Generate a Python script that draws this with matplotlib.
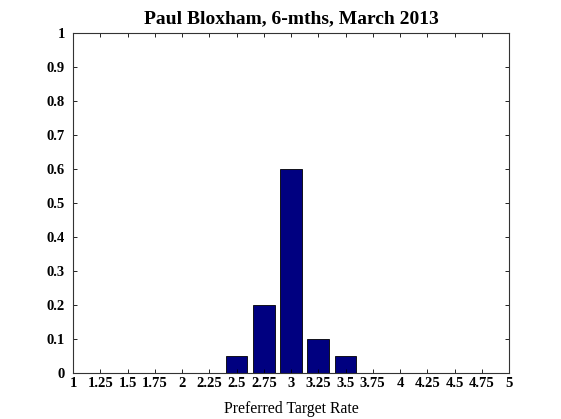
import matplotlib.pyplot as plt
import numpy as np

# preferred target rate survey
rates = [2.5, 2.75, 3.0, 3.25, 3.5]
shares = [0.05, 0.2, 0.6, 0.1, 0.05]
xticks = [1, 1.25, 1.5, 1.75, 2, 2.25, 2.5, 2.75, 3, 3.25, 3.5, 3.75, 4, 4.25, 4.5, 4.75, 5]
xticklabels = ['1', '1.25', '1.5', '1.75', '2', '2.25', '2.5', '2.75', '3', '3.25',
               '3.5', '3.75', '4', '4.25', '4.5', '4.75', '5']
yticks = [0, 0.1, 0.2, 0.3, 0.4, 0.5, 0.6, 0.7, 0.8, 0.9, 1]
yticklabels = ['0', '0.1', '0.2', '0.3', '0.4', '0.5', '0.6', '0.7', '0.8', '0.9', '1']

plt.rcParams['font.family'] = ['Liberation Serif', 'DejaVu Serif']
plt.rcParams['font.weight'] = 'bold'

fig = plt.figure(figsize=(5.61, 4.19), dpi=100)
ax = fig.add_axes([73 / 561, 1 - 373 / 419, 436 / 561, 340 / 419])

ax.bar(rates, shares, width=0.2, color='#000080', edgecolor='black', linewidth=0.6)

ax.set_xlim(1, 5)
ax.set_ylim(0, 1)
ax.set_xticks(xticks)
ax.set_xticklabels(xticklabels, fontsize=10.5)
ax.set_yticks(yticks)
ax.set_yticklabels(yticklabels, fontsize=10.5)
ax.tick_params(direction='in', top=True, right=True, length=3, width=0.6, pad=3)
ax.tick_params(axis='y', pad=6)
for s in ax.spines.values():
    s.set_linewidth(0.8)
    s.set_color('#333333')

ax.set_title('Paul Bloxham, 6-mths, March 2013', fontsize=14, fontweight='bold', pad=7)
ax.set_xlabel('Preferred Target Rate', fontsize=11.3, fontweight='normal', labelpad=8)

fig.savefig('out.png', dpi=100)
